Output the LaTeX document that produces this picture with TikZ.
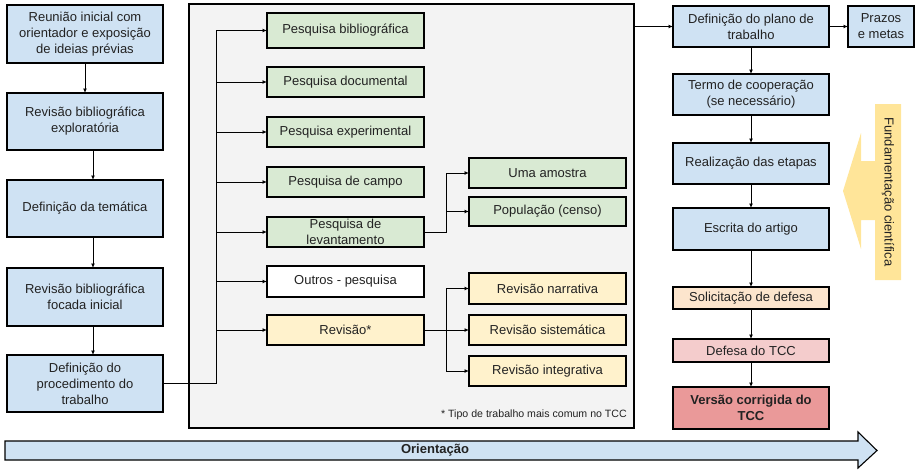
\documentclass[tikz,border=0pt]{standalone}
\usepackage{fontspec}
\setmainfont{Liberation Sans}
\usetikzlibrary{arrows.meta}
\definecolor{lblue}{HTML}{CFE2F3}
\definecolor{lgreen}{HTML}{D9EAD3}
\definecolor{lyellow}{HTML}{FFF2CC}
\definecolor{lorange}{HTML}{FCE5CD}
\definecolor{lred}{HTML}{F4CCCC}
\definecolor{mred}{HTML}{EA9999}
\definecolor{myellow}{HTML}{FFE599}
\definecolor{lgray}{HTML}{F3F3F3}
\definecolor{txt}{HTML}{222222}
\tikzset{
  box/.style={draw=black, line width=1.1pt, inner sep=0pt, outer sep=0pt, align=center,
    font=\fontsize{13}{16}\selectfont, text=txt},
  bluebox/.style={box, fill=lblue},
  greenbox/.style={box, fill=lgreen},
  yellowbox/.style={box, fill=lyellow},
  conn/.style={draw=black, line width=1pt},
  arr/.style={conn, -{Latex[length=4.5pt,width=4pt]}},
}
\begin{document}
\begin{tikzpicture}[x=1pt,y=-1pt]
\useasboundingbox (0,0) rectangle (915,469);
% panel
\node[draw=black, line width=1.1pt, fill=lgray, inner sep=0pt, outer sep=0pt,
  minimum width=445pt, minimum height=424pt] (panel) at (411.5,216) {};
% left column
\node[bluebox, minimum width=156pt, minimum height=58pt] (b1) at (85,34) {Reunião inicial com\\orientador e exposição\\de ideias prévias};
\node[bluebox, minimum width=156pt, minimum height=57pt] (b2) at (85,121.5) {Revisão bibliográfica\\exploratória};
\node[bluebox, minimum width=156pt, minimum height=57pt] (b3) at (85,208.5) {Definição da temática};
\node[bluebox, minimum width=156pt, minimum height=58pt] (b4) at (85,297) {Revisão bibliográfica\\focada inicial};
\node[bluebox, minimum width=156pt, minimum height=57pt] (b5) at (85,383.5) {Definição do\\procedimento do\\trabalho};
\draw[arr] (b1.south) -- (b2.north);
\draw[arr] ([xshift=8pt]b2.south) -- ([xshift=8pt]b3.north);
\draw[arr] ([xshift=8pt]b3.south) -- ([xshift=8pt]b4.north);
\draw[arr] ([xshift=8pt]b4.south) -- ([xshift=8pt]b5.north);
% middle
\node[greenbox, minimum width=157pt, minimum height=35pt] (m1) at (345.5,30.5) {Pesquisa bibliográfica};
\node[greenbox, minimum width=157pt, minimum height=30pt] (m2) at (345.5,82) {Pesquisa documental};
\node[greenbox, minimum width=157pt, minimum height=30pt] (m3) at (345.5,132) {Pesquisa experimental};
\node[greenbox, minimum width=157pt, minimum height=30pt] (m4) at (345.5,182) {Pesquisa de campo};
\node[greenbox, minimum width=157pt, minimum height=30pt] (m5) at (345.5,232) {Pesquisa de\\levantamento};
\node[box, fill=white, minimum width=157pt, minimum height=31pt] (m6) at (345.5,281.5) {Outros - pesquisa};
\node[yellowbox, minimum width=157pt, minimum height=30pt] (m7) at (345.5,330) {Revisão*};
\coordinate (t) at (216,383.5);
\draw[conn] (b5.east) -- (t) -- (t |- m1.west);
\foreach \m in {m1,m2,m3,m4,m5,m6,m7} \draw[arr] (t |- \m.west) -- (\m.west);
% sub branches
\node[greenbox, minimum width=157pt, minimum height=30pt] (s1) at (547.5,173) {Uma amostra};
\node[greenbox, minimum width=157pt, minimum height=29pt] (s2) at (547.5,211.5) {População (censo)};
\node[yellowbox, minimum width=157pt, minimum height=31pt] (r1) at (547.5,288.5) {Revisão narrativa};
\node[yellowbox, minimum width=157pt, minimum height=30pt] (r2) at (547.5,330) {Revisão sistemática};
\node[yellowbox, minimum width=157pt, minimum height=30pt] (r3) at (547.5,371) {Revisão integrativa};
\coordinate (u) at (446,232);
\draw[conn] (m5.east) -- (u) -- (u |- s1.west);
\draw[arr] (u |- s1.west) -- (s1.west);
\draw[arr] (u |- s2.west) -- (s2.west);
\coordinate (v) at (446,330);
\draw[conn] (v |- r1.west) -- (v |- r3.west);
\draw[arr] (m7.east) -- (r2.west);
\draw[arr] (v |- r1.west) -- (r1.west);
\draw[arr] (v |- r3.west) -- (r3.west);
\node[anchor=east, inner sep=0pt, font=\fontsize{10.6}{12}\selectfont, text=txt] (note) at (627,415) {* Tipo de trabalho mais comum no TCC};
% right column
\node[bluebox, minimum width=156pt, minimum height=41pt] (c1) at (751,26.5) {Definição do plano de\\trabalho};
\node[bluebox, minimum width=66pt, minimum height=41pt] (pz) at (881,26.5) {Prazos\\e metas};
\node[bluebox, minimum width=156pt, minimum height=41pt] (c2) at (751,94.5) {Termo de cooperação\\(se necessário)};
\node[bluebox, minimum width=156pt, minimum height=41pt] (c3) at (751,163.5) {Realização das etapas};
\node[bluebox, minimum width=156pt, minimum height=42pt] (c4) at (751,229) {Escrita do artigo};
\node[box, fill=lorange, minimum width=156pt, minimum height=22pt] (c5) at (751,298) {Solicitação de defesa};
\node[box, fill=lred, minimum width=156pt, minimum height=23pt] (c6) at (751,350.5) {Defesa do TCC};
\node[box, fill=mred, minimum width=156pt, minimum height=42pt, font=\fontsize{13}{16}\selectfont\bfseries] (c7) at (751,408) {Versão corrigida do\\TCC};
\draw[arr] (panel.east |- c1.west) -- (c1.west);
\draw[arr] (c1.east) -- (pz.west);
\draw[arr] (c1.south) -- (c2.north);
\draw[arr] (c2.south) -- (c3.north);
\draw[arr] (c3.south) -- (c4.north);
\draw[arr] (c4.south) -- (c5.north);
\draw[arr] (c5.south) -- (c6.north);
\draw[arr] (c6.south) -- (c7.north);
% yellow block arrow
\fill[myellow] (875,104) -- (901,104) -- (901,280) -- (875,280) -- (875,220) -- (861,220)
  -- (861,249) -- (843,191) -- (861,133) -- (861,161) -- (875,161) -- cycle;
\node[rotate=-90, inner sep=0pt, font=\fontsize{13}{16}\selectfont, text=txt] (fund) at (888,192) {Fundamentação científica};
% bottom arrow
\draw[fill=lblue, line width=1.1pt, line join=miter] (5,441) -- (858,441) -- (858,432) -- (877,450.5)
  -- (858,468) -- (858,460) -- (5,460) -- cycle;
\node[inner sep=0pt, font=\fontsize{13}{16}\selectfont\bfseries, text=txt] (ori) at (435,450.5) {Orientação};
\end{tikzpicture}
\end{document}
